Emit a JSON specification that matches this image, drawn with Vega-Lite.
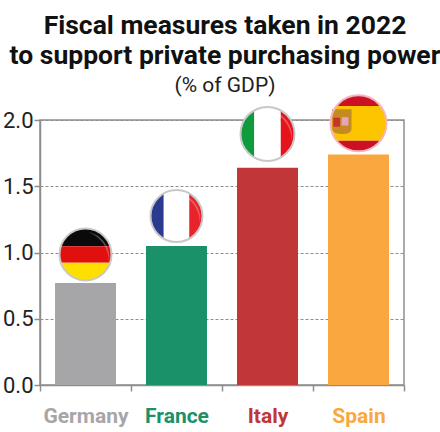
{
  "$schema": "https://vega.github.io/schema/vega-lite/v6.json",
  "width": 364,
  "height": 265,
  "autosize": {"type": "none"},
  "padding": {"left": 40, "top": 120, "right": 36, "bottom": 47},
  "background": "white",
  "view": {"stroke": "#8e8e8e", "strokeWidth": 1.5},
  "title": {
    "text": ["Fiscal measures taken in 2022", "to support private purchasing power"],
    "subtitle": "(% of GDP)",
    "anchor": "middle",
    "frame": "group",
    "dx": 3,
    "offset": -5,
    "font": "Roboto",
    "fontSize": 26.5,
    "fontWeight": "bold",
    "color": "#111111",
    "lineHeight": 30,
    "subtitleFont": "Roboto",
    "subtitleFontSize": 21,
    "subtitleColor": "#222222",
    "subtitlePadding": 6
  },
  "datasets": {
    "measures": [
      {"country": "Germany", "share": 0.77},
      {"country": "France", "share": 1.05},
      {"country": "Italy", "share": 1.64},
      {"country": "Spain", "share": 1.74}
    ],
    "flagPieces": [
      {"country": "Germany", "badge": 0.985, "piece": "Germany black"},
      {"country": "Germany", "badge": 0.985, "piece": "Germany red"},
      {"country": "Germany", "badge": 0.985, "piece": "Germany gold"},
      {"country": "France", "badge": 1.275, "piece": "France blue"},
      {"country": "France", "badge": 1.275, "piece": "France white"},
      {"country": "France", "badge": 1.275, "piece": "France red"},
      {"country": "Italy", "badge": 1.895, "piece": "Italy green"},
      {"country": "Italy", "badge": 1.895, "piece": "Italy white"},
      {"country": "Italy", "badge": 1.895, "piece": "Italy red"},
      {"country": "Spain", "badge": 1.975, "piece": "Spain upper red"},
      {"country": "Spain", "badge": 1.975, "piece": "Spain gold"},
      {"country": "Spain", "badge": 1.975, "piece": "Spain lower red"},
      {"country": "Spain", "badge": 1.975, "piece": "Spain shield"},
      {"country": "Spain", "badge": 1.975, "piece": "Spain shield red"},
      {"country": "Spain", "badge": 1.975, "piece": "Spain shield pink"},
      {"country": "Germany", "badge": 0.985, "piece": "gloss"},
      {"country": "France", "badge": 1.275, "piece": "gloss"},
      {"country": "Italy", "badge": 1.895, "piece": "gloss"}
    ],
    "flagRims": [
      {"country": "Germany", "badge": 0.985},
      {"country": "France", "badge": 1.275},
      {"country": "Italy", "badge": 1.895},
      {"country": "Spain", "badge": 1.975}
    ]
  },
  "resolve": {"scale": {"color": "independent"}},
  "layer": [
    {
      "data": {"name": "measures"},
      "mark": {"type": "bar", "width": {"band": 0.67}},
      "encoding": {
        "x": {
          "field": "country",
          "type": "nominal",
          "title": null,
          "sort": ["Germany", "France", "Italy", "Spain"],
          "scale": {"paddingInner": 0, "paddingOuter": 0},
          "axis": {
            "labelAngle": 0,
            "tickBand": "extent",
            "tickSize": 6,
            "tickColor": "#8e8e8e",
            "tickWidth": 1.5,
            "domainColor": "#8e8e8e",
            "domainWidth": 1.5,
            "labelFont": "Roboto",
            "labelFontSize": 21,
            "labelFontWeight": "bold",
            "labelPadding": 14,
            "labelColor": {"expr": "{'Germany':'#a6a6a8','France':'#1a9169','Italy':'#c13637','Spain':'#f9a73e'}[datum.value]"}
          }
        },
        "y": {
          "field": "share",
          "type": "quantitative",
          "title": null,
          "scale": {"domain": [0, 2], "nice": false},
          "axis": {
            "values": [0, 0.5, 1, 1.5, 2],
            "format": ".1f",
            "grid": true,
            "gridColor": "#8e8e8e",
            "gridDash": [3, 2],
            "gridWidth": 1,
            "tickSize": 6,
            "tickColor": "#8e8e8e",
            "tickWidth": 1.5,
            "domainColor": "#8e8e8e",
            "domainWidth": 1.5,
            "labelFont": "Roboto",
            "labelFontSize": 22,
            "labelColor": "#222222",
            "labelPadding": 1
          }
        },
        "color": {
          "field": "country",
          "type": "nominal",
          "legend": null,
          "scale": {
            "domain": ["Germany", "France", "Italy", "Spain"],
            "range": ["#a6a6a8", "#1a9169", "#c13637", "#f9a73e"]
          }
        }
      }
    },
    {
      "data": {"name": "flagPieces"},
      "mark": {"type": "point", "filled": true, "opacity": 1},
      "encoding": {
        "x": {"field": "country", "type": "nominal", "title": null, "sort": ["Germany", "France", "Italy", "Spain"]},
        "y": {"field": "badge", "type": "quantitative", "title": null},
        "size": {
          "field": "country",
          "legend": null,
          "scale": {
            "type": "ordinal",
            "domain": ["Germany", "France", "Italy", "Spain"],
            "range": [2704, 2704, 2916, 3136]
          }
        },
        "color": {
          "field": "piece",
          "type": "nominal",
          "legend": null,
          "scale": {
            "domain": [
              "Germany black", "Germany red", "Germany gold",
              "France blue", "France white", "France red",
              "Italy green", "Italy white", "Italy red",
              "Spain upper red", "Spain gold", "Spain lower red",
              "Spain shield", "Spain shield red", "Spain shield pink", "gloss"
            ],
            "range": [
              "#0a0a0a", "#e0100f", "#fde000",
              "#2b3a8f", "#ffffff", "#e8232b",
              "#0f9a3c", "#ffffff", "#e5141c",
              "#cc1125", "#fdc400", "#cc1125",
              "#c68a22", "#c9322c", "#e6a6b8", "rgba(255,255,255,0.28)"
            ]
          }
        },
        "shape": {
          "field": "piece",
          "type": "nominal",
          "legend": null,
          "scale": {
            "domain": [
              "Germany black", "Germany red", "Germany gold",
              "France blue", "France white", "France red",
              "Italy green", "Italy white", "Italy red",
              "Spain upper red", "Spain gold", "Spain lower red",
              "Spain shield", "Spain shield red", "Spain shield pink", "gloss"
            ],
            "range": [
              "M-0.947,-0.32A1,1 0 0 1 0.947,-0.32Z",
              "M-0.947,-0.32L0.947,-0.32A1,1 0 0 1 0.947,0.32L-0.947,0.32A1,1 0 0 1 -0.947,-0.32Z",
              "M0.947,0.32A1,1 0 0 1 -0.947,0.32Z",
              "M-0.49,0.872A1,1 0 0 1 -0.49,-0.872Z",
              "M-0.49,-0.872A1,1 0 0 1 0.49,-0.872L0.49,0.872A1,1 0 0 1 -0.49,0.872Z",
              "M0.49,-0.872A1,1 0 0 1 0.49,0.872Z",
              "M-0.49,0.872A1,1 0 0 1 -0.49,-0.872Z",
              "M-0.49,-0.872A1,1 0 0 1 0.49,-0.872L0.49,0.872A1,1 0 0 1 -0.49,0.872Z",
              "M0.49,-0.872A1,1 0 0 1 0.49,0.872Z",
              "M-0.785,-0.62A1,1 0 0 1 0.785,-0.62Z",
              "M-0.785,-0.62L0.785,-0.62A1,1 0 0 1 0.785,0.62L-0.785,0.62A1,1 0 0 1 -0.785,-0.62Z",
              "M0.785,0.62A1,1 0 0 1 -0.785,0.62Z",
              "M-0.94,-0.5L-0.25,-0.5L-0.25,0.2Q-0.25,0.38 -0.55,0.38Q-0.94,0.38 -0.94,0.2Z",
              "M-0.9,-0.2L-0.66,-0.2L-0.66,0.12L-0.9,0.12Z",
              "M-0.6,-0.22L-0.36,-0.22L-0.36,0.08L-0.6,0.08Z",
              "M0.12,-0.86A0.98,0.98 0 0 1 0.9,0.28A1.2,1.2 0 0 0 0.12,-0.86Z"
            ]
          }
        }
      }
    },
    {
      "data": {"name": "flagRims"},
      "mark": {"type": "point", "filled": false, "shape": "circle", "strokeWidth": 2, "opacity": 1},
      "encoding": {
        "x": {"field": "country", "type": "nominal", "title": null, "sort": ["Germany", "France", "Italy", "Spain"]},
        "y": {"field": "badge", "type": "quantitative", "title": null},
        "size": {
          "field": "country",
          "legend": null,
          "scale": {
            "type": "ordinal",
            "domain": ["Germany", "France", "Italy", "Spain"],
            "range": [2704, 2704, 2916, 3136]
          }
        },
        "color": {
          "field": "country",
          "type": "nominal",
          "legend": null,
          "scale": {
            "domain": ["Germany", "France", "Italy", "Spain"],
            "range": ["#c8c8c8", "#c8c8c8", "#c8c8c8", "#f7b3c0"]
          }
        }
      }
    }
  ]
}
